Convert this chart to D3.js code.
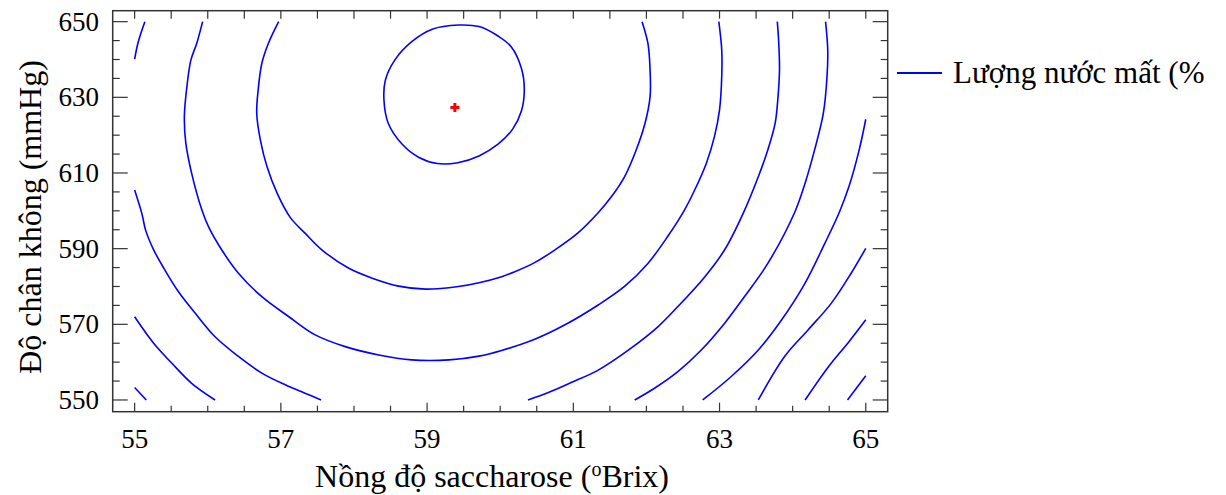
<!DOCTYPE html>
<html>
<head>
<meta charset="utf-8">
<script src="https://cdn.jsdelivr.net/npm/d3@7"></script>
<style>
  body { margin: 0; background: #fff; }
  text { font-family: "Liberation Serif", "Times New Roman", serif; fill: #000; }
</style>
</head>
<body>
<div id="chart"></div>
<script>
// axis ticks
var xTicks = [55, 57, 59, 61, 63, 65];
var yTicks = [550, 570, 590, 610, 630, 650];

// contour lines, [Brix, mmHg]
var ringA = [[59.43,649.1],[59.71,648.7],[59.97,646.2],[60.15,643.4],[60.29,637.7],[60.33,632.0],[60.29,626.4],[60.17,621.6],[59.97,617.6],[59.71,614.5],[59.42,612.7],[59.14,612.5],[58.89,614.1],[58.66,617.6],[58.47,623.1],[58.41,629.3],[58.43,634.6],[58.56,639.9],[58.79,644.7],[59.07,648.0]];
var ringB = [[56.97,650],[56.83,644.3],[56.74,639.0],[56.69,632.0],[56.67,625.8],[56.72,618.7],[56.81,611.7],[56.95,604.6],[57.13,598.2],[57.33,594.1],[57.56,589.7],[57.93,584.8],[58.25,582.2],[58.61,580.1],[58.98,579.3],[59.43,580.0],[59.71,581.0],[60.02,582.6],[60.20,583.9],[60.47,586.3],[60.75,589.7],[61.06,594.1],[61.34,599.5],[61.52,603.7],[61.70,609.0],[61.86,616.1],[61.98,623.1],[62.05,630.2],[62.05,637.2],[62.02,644.3],[61.94,650]];
var ringC = [[55.93,650],[55.85,644.3],[55.77,639.9],[55.72,633.7],[55.68,624.9],[55.70,617.9],[55.78,609.9],[55.92,600.2],[56.01,595.8],[56.19,589.7],[56.42,583.5],[56.74,577.3],[57.11,572.0],[57.47,567.2],[57.88,564.1],[58.34,561.9],[58.79,560.6],[59.30,560.6],[59.71,561.6],[60.02,563.1],[60.43,565.7],[60.88,569.8],[61.34,575.1],[61.70,580.0],[62.02,586.1],[62.29,593.2],[62.52,600.2],[62.66,605.5],[62.82,612.6],[62.93,619.6],[63.00,626.7],[63.03,635.5],[63.03,642.5],[62.99,650]];
var ringDLeft = [[55.00,605.5],[55.10,599.2],[55.15,594.9],[55.26,589.7],[55.40,584.8],[55.60,578.6],[55.83,572.9],[56.10,566.7],[56.42,561.5],[56.74,557.1],[57.06,554.0],[57.33,551.8],[57.55,550]];
var ringDRight = [[60.38,550],[60.65,551.9],[60.97,554.6],[61.34,557.9],[61.79,563.7],[62.16,569.4],[62.43,574.7],[62.80,582.6],[63.07,589.7],[63.32,599.2],[63.53,609.0],[63.66,616.1],[63.76,623.1],[63.80,630.2],[63.82,637.2],[63.81,644.3],[63.79,650]];
var ringETop = [[55.00,640.1],[55.05,644.7],[55.14,650]];
var ringELeft = [[55.00,572.0],[55.26,565.0],[55.51,559.7],[55.78,554.4],[56.10,550]];
var ringERight = [[61.84,550],[62.11,553.1],[62.43,557.5],[62.75,563.2],[63.07,570.3],[63.34,577.3],[63.66,586.1],[64.03,599.7],[64.17,607.3],[64.30,616.1],[64.42,625.8],[64.47,635.5],[64.48,642.5],[64.45,650]];
var ringFLeft = [[55.00,553.3],[55.16,550]];
var ringFRight = [[65.00,624.2],[64.91,616.1],[64.77,606.4],[64.64,599.7],[64.44,591.4],[64.17,580.9],[63.85,571.2],[63.53,563.2],[63.16,556.2],[62.77,550]];
var ringG = [[65.00,590.1],[64.80,583.5],[64.53,575.6],[64.21,568.5],[63.89,561.5],[63.53,550]];
var ringH = [[65.00,571.2],[64.77,565.4],[64.49,558.8],[64.17,550]];
var ringI = [[65.00,556.4],[64.75,550]];

var optimum = [59.38, 627.3];
var legendLabel = "Lượng nước mất (%";

var width = 1226, height = 495;
var svg = d3.select("#chart").append("svg")
  .attr("width", width)
  .attr("height", height);

var x = d3.scaleLinear().domain([54.7, 65.3]).range([112.7, 887.7]);
var y = d3.scaleLinear().domain([546.9, 652.9]).range([411.7, 10.7]);

var axisColor = "#333";

// frame
svg.append("rect")
  .attr("x", x.range()[0]).attr("y", y.range()[1])
  .attr("width", x.range()[1] - x.range()[0])
  .attr("height", y.range()[0] - y.range()[1])
  .attr("fill", "none").attr("stroke", axisColor).attr("stroke-width", 1.5);

// minor tick positions
var xMinor = d3.range(55, 65.01, 0.5);
var yMinor = d3.range(550, 650.01, 5);

var yBottom = y.range()[0], yTop = y.range()[1];
var xLeft = x.range()[0], xRight = x.range()[1];

xMinor.forEach(function(v) {
  var major = xTicks.indexOf(v) >= 0;
  var len = major ? 9 : 6;
  svg.append("line").attr("x1", x(v)).attr("x2", x(v)).attr("y1", yBottom).attr("y2", yBottom - len)
    .attr("stroke", axisColor).attr("stroke-width", 1.2);
  svg.append("line").attr("x1", x(v)).attr("x2", x(v)).attr("y1", yTop).attr("y2", yTop + 8)
    .attr("stroke", axisColor).attr("stroke-width", 1.2);
});
yMinor.forEach(function(v) {
  var major = yTicks.indexOf(v) >= 0;
  var len = major ? 15 : 7;
  svg.append("line").attr("x1", xLeft).attr("x2", xLeft + len).attr("y1", y(v)).attr("y2", y(v))
    .attr("stroke", axisColor).attr("stroke-width", 1.2);
  svg.append("line").attr("x1", xRight).attr("x2", xRight - len).attr("y1", y(v)).attr("y2", y(v))
    .attr("stroke", axisColor).attr("stroke-width", 1.2);
});

// tick labels
svg.selectAll(".xlab").data(xTicks).enter().append("text")
  .attr("x", function(d) { return x(d); })
  .attr("y", 448)
  .attr("text-anchor", "middle")
  .style("font-size", "27px")
  .text(function(d) { return d; });

svg.selectAll(".ylab").data(yTicks).enter().append("text")
  .attr("x", 99)
  .attr("y", function(d) { return y(d) + 9; })
  .attr("text-anchor", "end")
  .style("font-size", "27px")
  .text(function(d) { return d; });

// axis titles
var xt = svg.append("text")
  .attr("x", 492).attr("y", 487)
  .attr("text-anchor", "middle")
  .style("font-size", "32px");
xt.append("tspan").text("Nồng độ saccharose (");
xt.append("tspan").attr("dy", -11).style("font-size", "20px").text("o");
xt.append("tspan").attr("dy", 11).text("Brix)");

svg.append("text")
  .attr("transform", "translate(41,217) rotate(-90)")
  .attr("text-anchor", "middle")
  .style("font-size", "32px")
  .text("Độ chân không (mmHg)");

// contours
var line = d3.line()
  .x(function(d) { return x(d[0]); })
  .y(function(d) { return y(d[1]); })
  .curve(d3.curveCatmullRom);

var openLines = [ringB, ringC, ringDLeft, ringDRight, ringETop, ringELeft, ringERight, ringFLeft, ringFRight, ringG, ringH, ringI];
svg.selectAll(".contour").data(openLines).enter().append("path")
  .attr("class", "contour")
  .attr("d", line)
  .attr("fill", "none").attr("stroke", "#0000ff").attr("stroke-width", 1.6);

svg.append("path")
  .attr("d", line.curve(d3.curveCatmullRomClosed)(ringA))
  .attr("fill", "none").attr("stroke", "#0000ff").attr("stroke-width", 1.6);

// optimum marker
var mx = x(optimum[0]), my = y(optimum[1]);
svg.append("path")
  .attr("d", "M" + (mx - 4.5) + "," + my + "H" + (mx + 4.5) + "M" + mx + "," + (my - 4.5) + "V" + (my + 4.5))
  .attr("stroke", "#ff0000").attr("stroke-width", 3);

// legend
svg.append("line").attr("x1", 897).attr("x2", 942).attr("y1", 73).attr("y2", 73)
  .attr("stroke", "#0000ff").attr("stroke-width", 2);
svg.append("text").attr("x", 953).attr("y", 83).style("font-size", "31px").text(legendLabel);
</script>
</body>
</html>
